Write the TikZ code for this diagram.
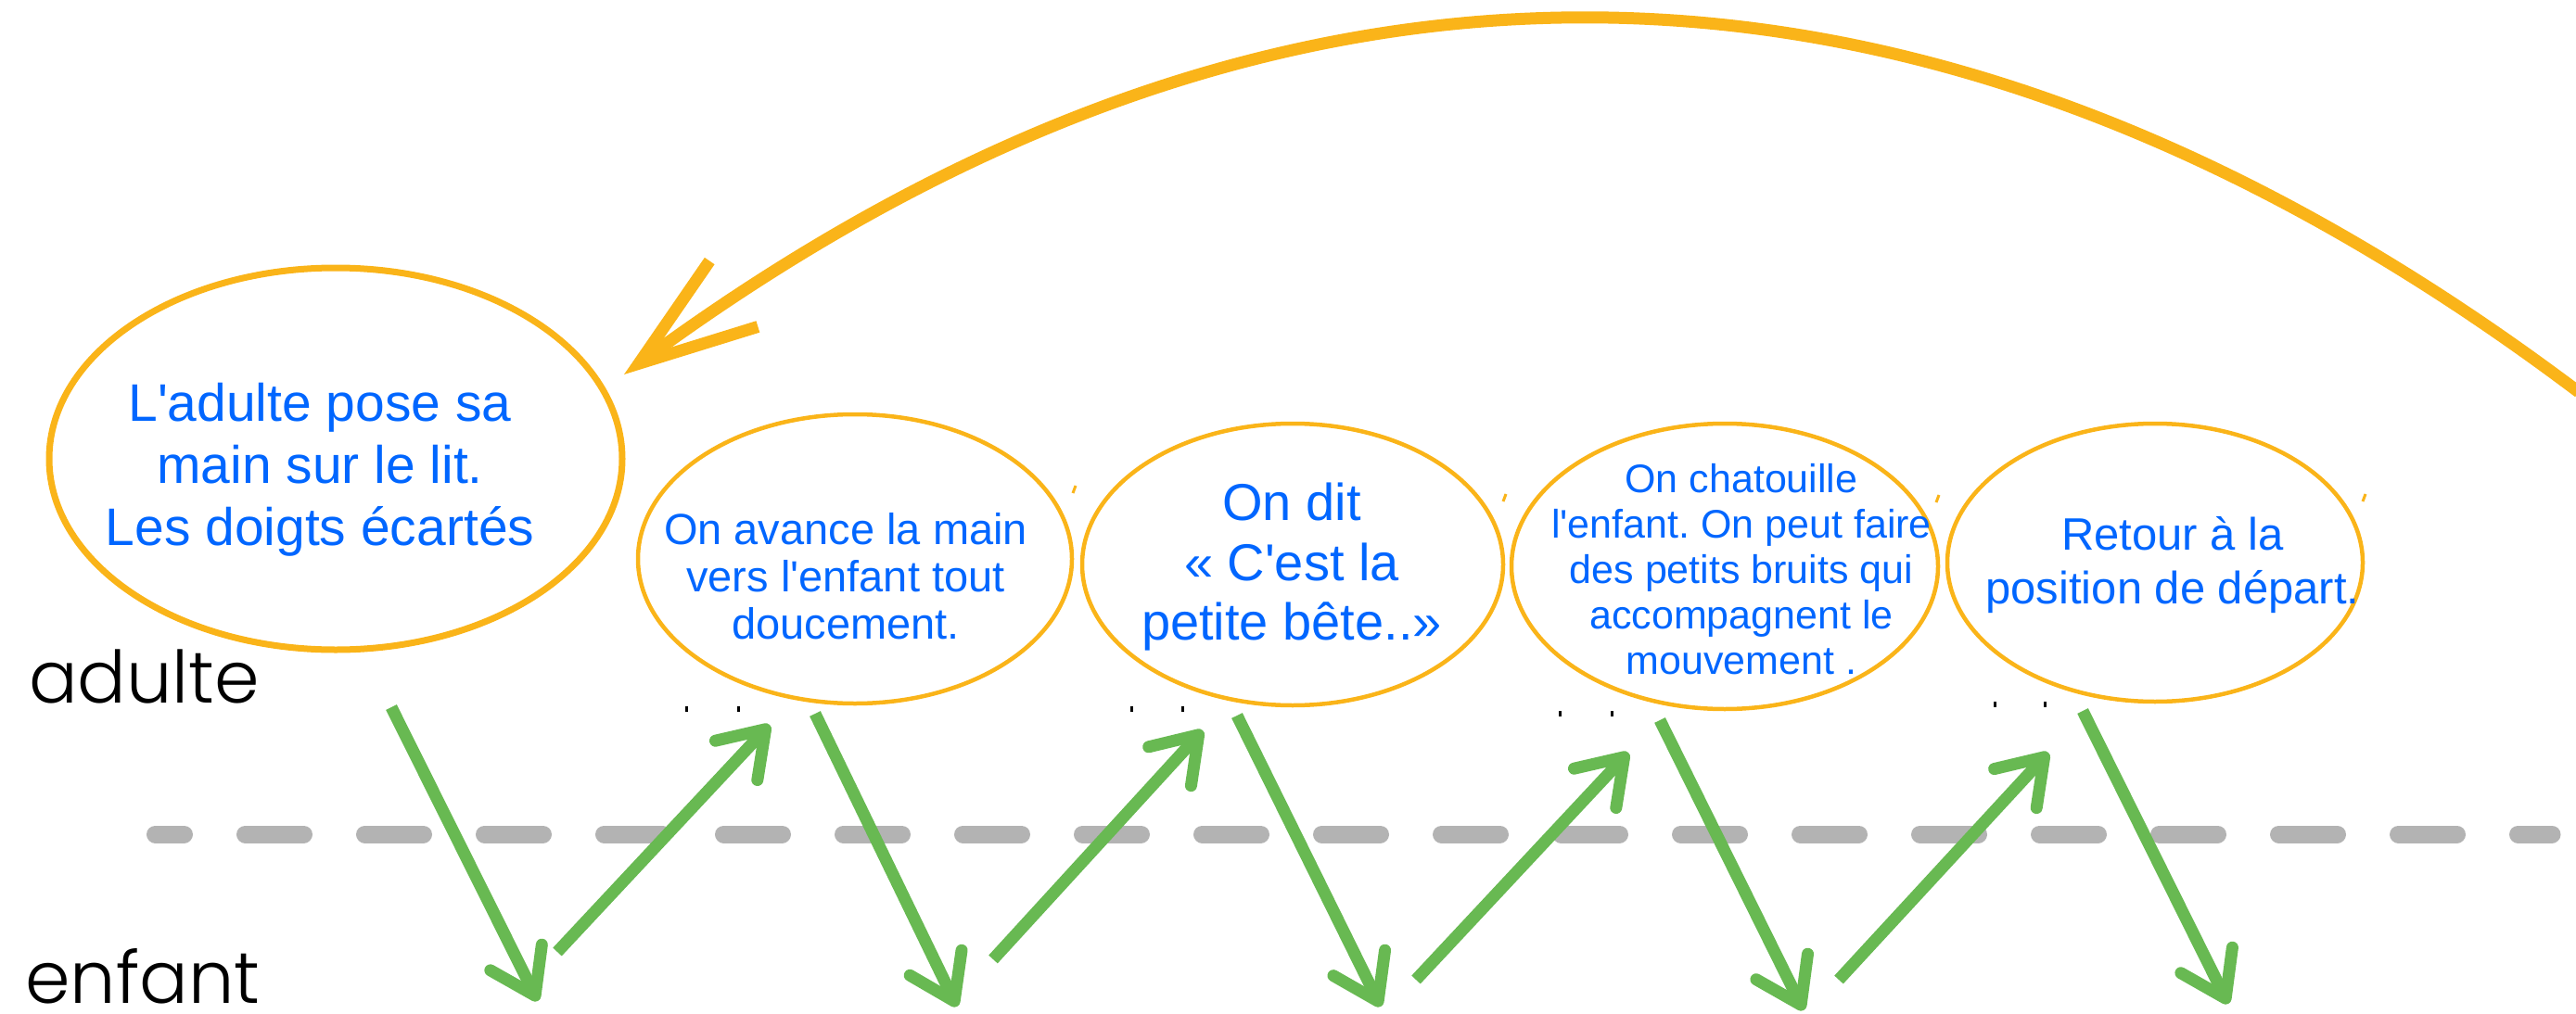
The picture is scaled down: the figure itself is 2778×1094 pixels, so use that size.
\documentclass[tikz,border=0pt]{standalone}
\usepackage{fontspec}
\setmainfont{Liberation Sans}[Ligatures=TeXOff]
\newfontfamily\etiquette{Poppins}[UprightFont=* Light]
\usetikzlibrary{arrows.meta,shapes.geometric}
\definecolor{jaune}{RGB}{250,180,25}
\definecolor{bleu}{RGB}{0,102,255}
\definecolor{vert}{RGB}{104,185,82}
\definecolor{gris}{RGB}{179,179,179}
\frenchspacing
\begin{document}
\begin{tikzpicture}[x=1pt, y=-1pt,
    bulle/.style={ellipse, draw=jaune, line width=4.5pt, inner sep=0pt},
    texte/.style={text=bleu, align=center, inner sep=0pt},
    niveau/.style={font=\etiquette\fontsize{78}{90}\selectfont, inner sep=0pt, anchor=base west},
    geste/.style={draw=vert, line width=13pt, -{Straight Barb[length=46pt, width=62pt, round]}},
    retour/.style={draw=jaune, line width=13pt, -{Straight Barb[length=127pt, width=88pt]}},
    frontiere/.style={draw=gris, line width=19pt, line cap=round, dash pattern=on 63pt off 66pt, dash phase=32pt}]
  \useasboundingbox (0,0) rectangle (2778,1094);

  \node[bulle, line width=7pt, minimum width=618pt, minimum height=412pt] (pose) at (362,495) {};
  \node[bulle, minimum width=468pt, minimum height=312pt] (avance) at (922,603) {};
  \node[bulle, minimum width=454pt, minimum height=304pt] (dit) at (1394,609) {};
  \node[bulle, minimum width=460pt, minimum height=308pt] (chatouille) at (1860,611) {};
  \node[bulle, minimum width=448pt, minimum height=300pt] (depart) at (2324,607) {};

  \node[texte, font=\fontsize{57}{67}\selectfont] (pose-t) at (345,507)
    {L'adulte pose sa\\main sur le lit.\\Les doigts écartés};
  \node[texte, font=\fontsize{47}{51}\selectfont] (avance-t) at (912,622)
    {On avance la main\\vers l'enfant tout\\doucement.};
  \node[texte, font=\fontsize{56}{64.5}\selectfont] (dit-t) at (1393,612)
    {On dit\\« C'est la\\petite bête..»};
  \node[texte, font=\fontsize{43}{49}\selectfont] (chatouille-t) at (1878,614)
    {On chatouille\\l'enfant. On peut faire\\des petits bruits qui\\accompagnent le\\mouvement .};
  \node[texte, font=\fontsize{49}{58}\selectfont] (depart-t) at (2343,610)
    {Retour à la\\position de départ.};

  \node[niveau] (adulte) at (31,758) {adulte};
  \node[niveau] (enfant) at (27,1082) {enfant};

  \coordinate (ligne-g) at (167.5,900);
  \coordinate (ligne-d) at (2752,900);
  \draw[frontiere] (ligne-g) -- (ligne-d);

  \coordinate (h0) at (422,763);
  \coordinate (b1) at (580,1080);
  \coordinate (b1') at (601,1027);
  \coordinate (h1) at (830,782);
  \coordinate (h1') at (879,770);
  \coordinate (b2) at (1032,1086);
  \coordinate (b2') at (1071,1035);
  \coordinate (h2) at (1297,788);
  \coordinate (h2') at (1334,772);
  \coordinate (b3) at (1489,1086);
  \coordinate (b3') at (1527,1057);
  \coordinate (h3) at (1756,812);
  \coordinate (h3') at (1790,777);
  \coordinate (b4) at (1945,1090);
  \coordinate (b4') at (1983,1057);
  \coordinate (h4) at (2209,812);
  \coordinate (h4') at (2246,767);
  \coordinate (b5) at (2403,1083);
  \begin{scope}[geste]
    \draw (h0) to (b1);
    \draw (b1') to (h1);
    \draw (h1') to (b2);
    \draw (b2') to (h2);
    \draw (h2') to (b3);
    \draw (b3') to (h3);
    \draw (h3') to (b4);
    \draw (b4') to (h4);
    \draw (h4') to (b5);
  \end{scope}

  \coordinate (fin) at (2781,423);
  \coordinate (pointe) at (673,404);
  \draw[retour] (fin) .. controls (2078,-107) and (1376,-113) .. (pointe);

  \foreach \x/\y in {739/762, 795/762, 1219/762, 1274/762, 1681/767, 1737/767, 2150/757, 2204/757}
    \fill (\x,\y) rectangle ++(3,6);
  \foreach \x/\y in {1157/532, 1621/541, 2088/542, 2548/541}
    \draw[jaune, line width=3pt] (\x,\y) -- ++(3,-8);
\end{tikzpicture}
\end{document}
